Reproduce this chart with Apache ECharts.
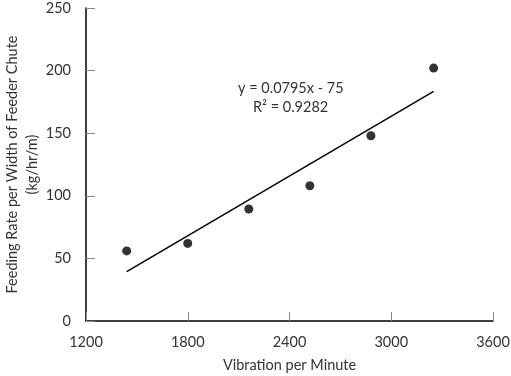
<!DOCTYPE html>
<html><head><meta charset="utf-8">
<script src="https://cdn.jsdelivr.net/npm/echarts@6/dist/echarts.min.js"></script>
<style>html,body{margin:0;padding:0;background:#fff}#c{width:511px;height:376px}</style>
</head><body><div id="c"></div>
<script>
const vibration = [1440, 1800, 2160, 2520, 2880, 3250];
const feedRate = [56, 62, 89.5, 108, 148, 202];
const slope = 0.0795, intercept = -75, r2 = 0.9282;
const xTicks = [1200, 1800, 2400, 3000, 3600];
const yTicks = [0, 50, 100, 150, 200, 250];

const xMin = Math.min(...vibration), xMax = Math.max(...vibration);
const trend = [[xMin, slope * xMin + intercept], [xMax, slope * xMax + intercept]];
const font = 'Lato';
const chart = echarts.init(document.getElementById('c'));
chart.setOption({
  animation: false,
  grid: {left: 86, right: 18, top: 8, bottom: 55, containLabel: false, outerBoundsMode: 'none'},
  xAxis: {
    type: 'value', min: xTicks[0], max: xTicks[xTicks.length-1], interval: 600,
    name: 'Vibration per Minute', nameLocation: 'middle', nameGap: 37, nameMoveOverlap: false,
    nameTextStyle: {color: '#333', fontSize: 14.5, fontFamily: font},
    axisLine: {lineStyle: {color: '#000', width: 1.5}},
    axisTick: {inside: true, length: 9, lineStyle: {color: '#888'}},
    axisLabel: {color: '#333', fontSize: 14.5, fontFamily: font, margin: 14, formatter: v => String(v)},
    splitLine: {show: false}
  },
  yAxis: {
    type: 'value', min: yTicks[0], max: yTicks[yTicks.length-1], interval: 50,
    name: 'Feeding Rate per Width of Feeder Chute\n(kg/hr/m)', nameLocation: 'middle', nameGap: 44, nameMoveOverlap: false,
    nameTextStyle: {color: '#333', fontSize: 14.5, fontFamily: font, lineHeight: 20},
    axisLine: {show: true, lineStyle: {color: '#000', width: 1.5}},
    axisTick: {show: true, inside: true, length: 9, lineStyle: {color: '#888'}},
    axisLabel: {color: '#333', fontSize: 14.5, fontFamily: font, margin: 15},
    splitLine: {show: false}
  },
  series: [
    {type: 'line', data: trend, symbol: 'none', lineStyle: {color: '#000', width: 1.5}, z: 1},
    {type: 'scatter', data: vibration.map((x, i) => [x, feedRate[i]]), symbolSize: 9, itemStyle: {color: '#000'}, z: 2}
  ],
  graphic: [
    {type: 'text', left: 238, top: 81, style: {text: 'y = 0.0795x - 75', fill: '#333', font: '14.5px Lato'}},
    {type: 'text', left: 253, top: 100, style: {text: 'R² = ' + r2, fill: '#333', font: '14.5px Lato'}}
  ]
});
</script></body></html>
